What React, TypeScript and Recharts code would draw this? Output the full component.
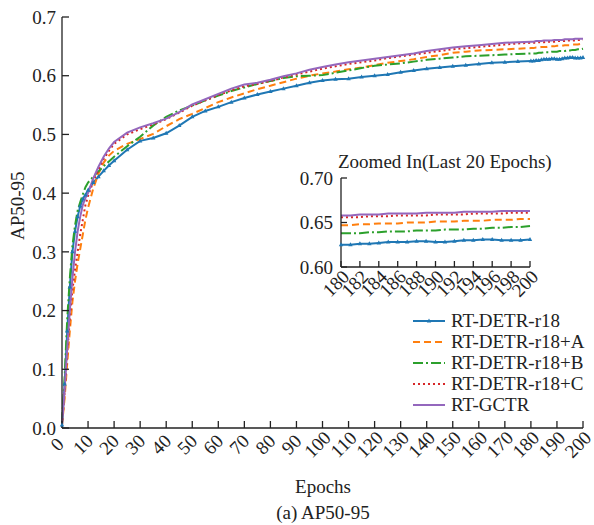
import React from 'react';
import { LineChart, Line, XAxis, YAxis, Legend } from 'recharts';

// epochs sampled densely at the start and over the last 20 epochs
const epochs = [
  0, 1, 2, 3, 4, 5, 6, 7, 8, 9, 10,
  12, 14, 16, 18, 20,
  25, 30, 35, 40, 45, 50, 55, 60, 65, 70, 75, 80, 85, 90, 95, 100,
  105, 110, 115, 120, 125, 130, 135, 140, 145, 150, 155, 160, 165, 170, 175,
  180, 181, 182, 183, 184, 185, 186, 187, 188, 189, 190,
  191, 192, 193, 194, 195, 196, 197, 198, 199, 200,
];

const r18 = [
  0.005, 0.075, 0.165, 0.24, 0.30, 0.335, 0.36, 0.378, 0.39, 0.397, 0.405,
  0.418, 0.428, 0.438, 0.447, 0.455,
  0.474, 0.489, 0.494, 0.502, 0.515, 0.530, 0.540, 0.547, 0.555, 0.562, 0.568, 0.573, 0.578, 0.583, 0.588, 0.592,
  0.594, 0.595, 0.598, 0.600, 0.602, 0.606, 0.609, 0.612, 0.614, 0.616, 0.618, 0.620, 0.622, 0.623, 0.624,
  0.625, 0.625, 0.626, 0.626, 0.627, 0.628, 0.628, 0.628, 0.629, 0.629, 0.628,
  0.628, 0.629, 0.630, 0.630, 0.631, 0.631, 0.630, 0.630, 0.630, 0.631,
];

const r18A = [
  0.005, 0.05, 0.11, 0.165, 0.215, 0.25, 0.28, 0.305, 0.33, 0.355, 0.375,
  0.408, 0.433, 0.452, 0.464, 0.472,
  0.484, 0.492, 0.501, 0.514, 0.526, 0.535, 0.545, 0.555, 0.563, 0.570, 0.577, 0.583, 0.589, 0.595, 0.600, 0.604,
  0.607, 0.611, 0.614, 0.618, 0.622, 0.625, 0.628, 0.632, 0.635, 0.639, 0.641, 0.643, 0.644, 0.645, 0.646,
  0.647, 0.647, 0.648, 0.648, 0.649, 0.649, 0.649, 0.650, 0.650, 0.650, 0.651,
  0.651, 0.651, 0.652, 0.652, 0.652, 0.653, 0.653, 0.653, 0.654, 0.654,
];

const r18B = [
  0.01, 0.085, 0.185, 0.255, 0.31, 0.345, 0.37, 0.385, 0.398, 0.41, 0.418,
  0.428, 0.437, 0.446, 0.454, 0.462,
  0.48, 0.496, 0.515, 0.530, 0.541, 0.549, 0.558, 0.566, 0.574, 0.580, 0.586, 0.591, 0.596, 0.599, 0.600, 0.601,
  0.605, 0.609, 0.613, 0.617, 0.619, 0.621, 0.624, 0.627, 0.629, 0.631, 0.633, 0.634, 0.635, 0.636, 0.637,
  0.638, 0.638, 0.638, 0.639, 0.639, 0.640, 0.640, 0.640, 0.641, 0.641, 0.641,
  0.642, 0.642, 0.642, 0.643, 0.643, 0.644, 0.644, 0.645, 0.645, 0.646,
];

const r18C = [
  0.005, 0.06, 0.125, 0.185, 0.235, 0.27, 0.30, 0.33, 0.355, 0.38, 0.395,
  0.42, 0.44, 0.458, 0.472, 0.484,
  0.500, 0.509, 0.517, 0.526, 0.537, 0.549, 0.558, 0.567, 0.575, 0.582, 0.586, 0.591, 0.597, 0.602, 0.607, 0.612,
  0.616, 0.620, 0.623, 0.626, 0.630, 0.633, 0.636, 0.639, 0.642, 0.645, 0.647, 0.649, 0.651, 0.653, 0.655,
  0.656, 0.656, 0.656, 0.657, 0.657, 0.657, 0.658, 0.658, 0.658, 0.658, 0.659,
  0.659, 0.659, 0.659, 0.660, 0.660, 0.660, 0.660, 0.661, 0.661, 0.661,
];

const gctr = [
  0.005, 0.065, 0.135, 0.20, 0.255, 0.30, 0.335, 0.36, 0.38, 0.392, 0.40,
  0.425, 0.445, 0.462, 0.476, 0.487,
  0.503, 0.512, 0.519, 0.527, 0.538, 0.551, 0.560, 0.569, 0.578, 0.585, 0.588, 0.593, 0.599, 0.604, 0.610, 0.615,
  0.619, 0.623, 0.626, 0.629, 0.632, 0.635, 0.638, 0.642, 0.645, 0.648, 0.650, 0.652, 0.654, 0.656, 0.657,
  0.658, 0.658, 0.659, 0.659, 0.659, 0.660, 0.660, 0.660, 0.660, 0.661, 0.661,
  0.661, 0.661, 0.662, 0.662, 0.662, 0.662, 0.663, 0.663, 0.663, 0.663,
];

const xTicks = [0, 10, 20, 30, 40, 50, 60, 70, 80, 90, 100, 110, 120, 130, 140, 150, 160, 170, 180, 190, 200];
const yTicks = [0, 0.1, 0.2, 0.3, 0.4, 0.5, 0.6, 0.7];
const zoomXTicks = [180, 182, 184, 186, 188, 190, 192, 194, 196, 198, 200];
const zoomYTicks = [0.6, 0.65, 0.7];

const series = [
  { key: 'r18', name: 'RT-DETR-r18', color: '#1f77b4', dash: undefined as string | undefined },
  { key: 'a', name: 'RT-DETR-r18+A', color: '#ff7f0e', dash: '7 4' },
  { key: 'b', name: 'RT-DETR-r18+B', color: '#2ca02c', dash: '10 3 2 3' },
  { key: 'c', name: 'RT-DETR-r18+C', color: '#d62728', dash: '2 3' },
  { key: 'gctr', name: 'RT-GCTR', color: '#9467bd', dash: undefined as string | undefined },
];

const data = epochs.map((e, i) => ({
  epoch: e, r18: r18[i], a: r18A[i], b: r18B[i], c: r18C[i], gctr: gctr[i],
}));
const zoomData = data.filter((d) => d.epoch >= 180);

const FONT = '"Liberation Serif", "Times New Roman", serif';
const TXT = '#222';

function AngledTick(props: any) {
  const { x, y, payload } = props;
  const bx = x - 0.5;
  const by = y + 21;
  return (
    <text x={bx} y={by} textAnchor="middle" transform={`rotate(-45 ${bx} ${by})`}
      fontSize={19} fill={TXT} fontFamily={FONT}>
      {payload.value}
    </text>
  );
}

function TriDot(props: any) {
  const { cx, cy } = props;
  if (cx == null || cy == null) return null;
  return <path d={`M${cx},${cy - 2.5}L${cx + 2.2},${cy + 1.5}L${cx - 2.2},${cy + 1.5}Z`} fill="#1f77b4" />;
}

function renderLegend() {
  return (
    <div style={{ fontFamily: FONT }}>
      {series.map((s) => (
        <div key={s.key} style={{ display: 'flex', alignItems: 'center', height: 21 }}>
          <svg width={34} height={12}>
            <line x1={1} y1={6} x2={33} y2={6} stroke={s.color} strokeWidth={2} strokeDasharray={s.dash} />
            {s.key === 'r18' && <path d="M17,3.5L19.2,7.5L14.8,7.5Z" fill={s.color} />}
          </svg>
          <span style={{ marginLeft: 5, fontSize: 19, color: TXT, lineHeight: '21px' }}>{s.name}</span>
        </div>
      ))}
    </div>
  );
}

function renderLines(withDots: boolean) {
  return series.map((s) => (
    <Line key={s.key} type="linear" dataKey={s.key} name={s.name} stroke={s.color}
      strokeWidth={2} strokeDasharray={s.dash}
      dot={s.key === 'r18' && withDots ? <TriDot /> : false}
      activeDot={false} isAnimationActive={false} />
  ));
}

const axisProps = {
  axisLine: { stroke: '#222', strokeWidth: 1.3 },
  tickLine: { stroke: '#222', strokeWidth: 1.3 },
};

export default function App() {
  return (
    <div style={{ position: 'absolute', left: 0, top: 0, width: 594, height: 525, fontFamily: FONT, background: '#fff', overflow: 'hidden' }}>
      <LineChart width={594} height={525} data={data} margin={{ top: 17, right: 11, left: 12, bottom: 57 }}>
        <XAxis dataKey="epoch" type="number" domain={[0, 200]} ticks={xTicks} interval={0}
          tickSize={-7} tickMargin={7} height={40} tick={<AngledTick />} {...axisProps} />
        <YAxis type="number" domain={[0, 0.7]} ticks={yTicks} interval={0} width={50}
          tickSize={-7} tickMargin={13} tickFormatter={(v: number) => v.toFixed(1)}
          tick={{ fontSize: 19, fill: TXT, fontFamily: FONT }} {...axisProps} />
        {renderLines(true)}
        <Legend layout="vertical" align="center" verticalAlign="middle" content={renderLegend}
          wrapperStyle={{ left: 412, top: 310, width: 175 }} />
      </LineChart>

      <div style={{ position: 'absolute', left: 0, top: 222, width: 36, textAlign: 'center', transform: 'translate(0,-50%) rotate(-90deg)', fontSize: 19, color: TXT, whiteSpace: 'nowrap', lineHeight: '20px' }}>
        AP50-95
      </div>
      <div style={{ position: 'absolute', left: 223, width: 200, top: 476, textAlign: 'center', fontSize: 19, color: TXT, lineHeight: '22px' }}>
        Epochs
      </div>
      <div style={{ position: 'absolute', left: 223, width: 200, top: 504, textAlign: 'center', fontSize: 19, color: TXT, lineHeight: '18px' }}>
        (a) AP50-95
      </div>

      <div style={{ position: 'absolute', left: 280, top: 145, width: 300, height: 170 }}>
        <div style={{ position: 'absolute', left: 58, width: 200, top: 6, textAlign: 'center', fontSize: 19, color: TXT, whiteSpace: 'nowrap', lineHeight: '22px' }}>
          Zoomed In(Last 20 Epochs)
        </div>
        <LineChart width={300} height={170} data={zoomData} margin={{ top: 33, right: 50, left: 11, bottom: 8 }}>
          <XAxis dataKey="epoch" type="number" domain={[180, 200]} ticks={zoomXTicks} interval={0}
            tickSize={-6} tickMargin={6} height={40} tick={<AngledTick />} {...axisProps} />
          <YAxis type="number" domain={[0.6, 0.7]} ticks={zoomYTicks} interval={0} width={50}
            tickSize={-6} tickMargin={14} tickFormatter={(v: number) => v.toFixed(2)}
            tick={{ fontSize: 19, fill: TXT, fontFamily: FONT }} {...axisProps} />
          {renderLines(true)}
        </LineChart>
      </div>
    </div>
  );
}
